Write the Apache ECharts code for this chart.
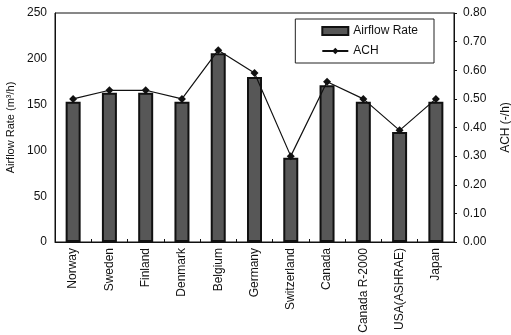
<!DOCTYPE html>
<html><head><meta charset="utf-8">
<script src="https://cdn.jsdelivr.net/npm/echarts@6/dist/echarts.min.js"></script>
<style>html,body{margin:0;padding:0;background:#fff}#c{width:511px;height:335px}</style>
</head><body><div id="c"></div>
<script>
const categories = ['Norway','Sweden','Finland','Denmark','Belgium','Germany','Switzerland','Canada','Canada R-2000','USA(ASHRAE)','Japan'];
const airflowRate = [153, 163, 163, 153, 206, 180, 92, 171, 153, 120, 153];
const ach = [0.50, 0.53, 0.53, 0.50, 0.67, 0.59, 0.30, 0.56, 0.50, 0.39, 0.50];
const leftTicks = [0, 50, 100, 150, 200, 250];
const rightTicks = [0, 0.1, 0.2, 0.3, 0.4, 0.5, 0.6, 0.7, 0.8];

const chart = echarts.init(document.getElementById('c'), null, {renderer:'canvas'});
const font = 'Liberation Sans, Arial, sans-serif';
chart.setOption({
  animation: false,
  textStyle: {fontFamily: font},
  grid: {left: 55, right: 57, top: 13, bottom: 93, outerBoundsMode: 'none', containLabel: false},
  legend: {
    right: 77, top: 19, orient: 'vertical', itemGap: 8,
    borderColor: '#222', borderWidth: 1, padding: [6, 16, 6, 26],
    itemWidth: 26, itemHeight: 8,
    textStyle: {fontSize: 12, color: '#111', fontFamily: font},
    data: [{name: 'Airflow Rate', icon: 'rect'}, {name: 'ACH'}]
  },
  xAxis: {
    type: 'category', data: categories,
    axisLine: {lineStyle: {color: '#111', width: 1}},
    axisTick: {show: true, inside: true, length: 3, alignWithLabel: false, lineStyle: {color: '#111'}},
    axisLabel: {rotate: 90, fontSize: 12, color: '#111', interval: 0, margin: 6, fontFamily: font},
    splitLine: {show: false}
  },
  yAxis: [{
    type: 'value', min: 0, max: 250, interval: 50,
    name: 'Airflow Rate (m\u00b3/h)', nameLocation: 'middle', nameGap: 37, nameRotate: 90,
    nameTextStyle: {fontSize: 11, color: '#111', fontFamily: font},
    axisLine: {show: true, lineStyle: {color: '#111'}},
    axisTick: {show: false},
    axisLabel: {fontSize: 12, color: '#111', margin: 8, fontFamily: font},
    splitLine: {show: false}
  }, {
    type: 'value', min: 0, max: 0.8, interval: 0.1, position: 'right',
    name: 'ACH (-/h)', nameLocation: 'middle', nameGap: 46, nameRotate: 90,
    nameTextStyle: {fontSize: 12, color: '#111', fontFamily: font},
    axisLine: {show: true, lineStyle: {color: '#111'}},
    axisTick: {show: true, length: 3, lineStyle: {color: '#111'}},
    axisLabel: {fontSize: 12, color: '#111', margin: 9, fontFamily: font, formatter: v => v.toFixed(2)},
    splitLine: {show: false}
  }],
  series: [{
    name: 'Airflow Rate', type: 'bar', data: airflowRate, barWidth: 15,
    itemStyle: {color: '#575757', borderColor: '#111', borderWidth: 2}
  }, {
    name: 'ACH', type: 'line', yAxisIndex: 1, data: ach,
    symbol: 'diamond', symbolSize: 8,
    lineStyle: {color: '#111', width: 1.2},
    itemStyle: {color: '#111'}
  }],
  graphic: [{
    type: 'rect', shape: {x: 55, y: 13, width: 399, height: 229},
    style: {fill: 'none', stroke: '#111', lineWidth: 1}, silent: true
  }]
});
</script></body></html>
